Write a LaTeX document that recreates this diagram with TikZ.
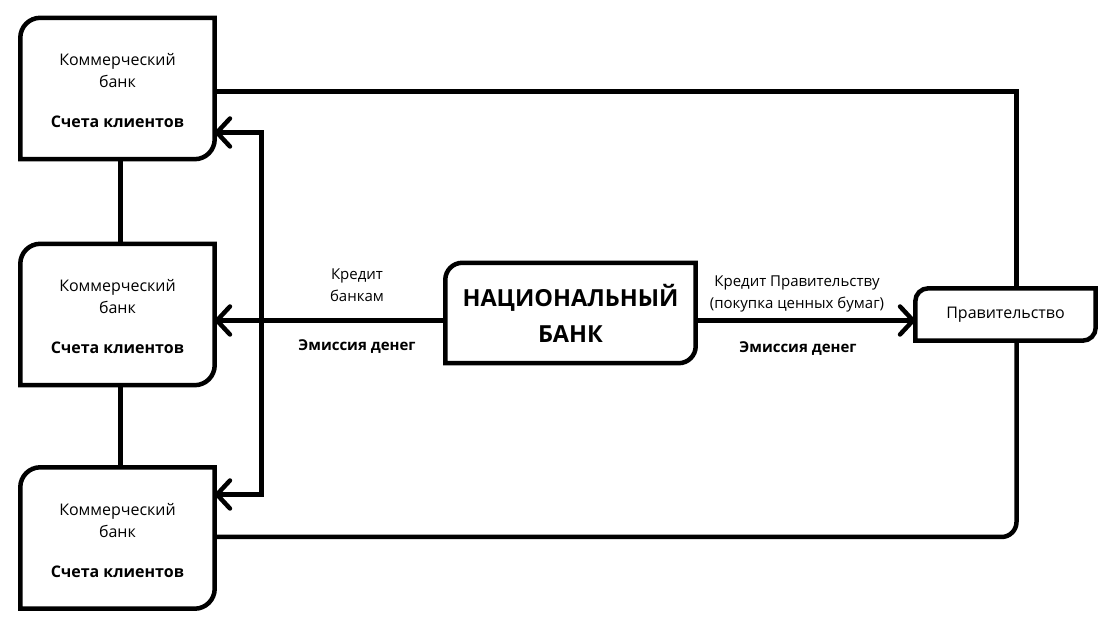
\documentclass[tikz,border=0pt]{standalone}
\usepackage{fontspec}
\setmainfont{Open Sans}
\usetikzlibrary{arrows.meta,calc}
\tikzset{
  bankbox/.style={minimum width=194pt,minimum height=141pt,inner sep=0pt},
  banktext/.style={align=center,inner sep=0pt,font=\fontsize{16}{22}\selectfont},
  boxline/.style={line width=4.5pt,line join=miter},
  conn/.style={line width=4.5pt},
  arr/.style={conn,-{Straight Barb[length=13pt,width=28pt,round]}},
  lbl/.style={align=center,inner sep=0pt,font=\fontsize{15}{22}\selectfont},
  blbl/.style={align=center,inner sep=0pt,font=\fontsize{15}{22}\selectfont\bfseries},
}
\newcommand\cutbox[2]{\draw[boxline] ($(#1.north west)+(0,-#2)$) arc[start angle=180,end angle=90,radius=#2] -- (#1.north east) -- ($(#1.south east)+(0,#2)$) arc[start angle=0,end angle=-90,radius=#2] -- (#1.south west) -- cycle;}
\newcommand\banktxt{Коммерческий\\банк\\[18pt]\textbf{Счета клиентов}}
\begin{document}
\begin{tikzpicture}[x=1pt,y=1pt]
\useasboundingbox (0,0) rectangle (1111,628);
\fill[white] (0,0) rectangle (1111,628);
% nodes
\node[bankbox] (cb1) at (117.5,539.5) {};
\node[bankbox] (cb2) at (117.5,313.5) {};
\node[bankbox] (cb3) at (117.5,90) {};
\node[banktext] (cb1t) at ($(cb1)+(0,-2.5)$) {\banktxt};
\node[banktext] (cb2t) at ($(cb2)+(0,-2.5)$) {\banktxt};
\node[banktext] (cb3t) at ($(cb3)+(0,-2.5)$) {\banktxt};
\node[minimum width=250pt,minimum height=100pt,inner sep=0pt,align=center,font=\fontsize{23.5}{36}\selectfont\bfseries] (nb) at (570.5,315) {НАЦИОНАЛЬНЫЙ\\БАНК};
\node[minimum width=180pt,minimum height=52pt,inner sep=0pt,font=\fontsize{16}{22}\selectfont] (gov) at (1005.5,313.5) {Правительство};
\cutbox{cb1}{20}
\cutbox{cb2}{20}
\cutbox{cb3}{20}
\cutbox{nb}{17}
\cutbox{gov}{13}
% labels
\node[lbl] (l1) at (357,343) {Кредит\\банкам};
\node[blbl] (l2) at (357,281) {Эмиссия денег};
\node[lbl] (l3) at (797,334) {Кредит Правительству\\(покупка ценных бумаг)};
\node[blbl] (l4) at (798,279) {Эмиссия денег};
% coordinates
\coordinate (mL) at ($(nb.west)+(0,-7.5)$);
\coordinate (mR) at ($(nb.east)+(0,-7.5)$);
\coordinate (bk1) at (261.5,495.5);
\coordinate (bk3) at (261.5,133.5);
\coordinate (t1) at ($(cb1.east)+(0,-3)$);
\coordinate (b3) at ($(cb3.east)+(0,1)$);
\coordinate (gn) at ($(gov.north)+(11,0)$);
\coordinate (gs) at ($(gov.south)+(11,0)$);
% connectors
\draw[conn] ($(cb1.south)+(3,0)$) -- ($(cb2.north)+(3,0)$);
\draw[conn] ($(cb2.south)+(3,0)$) -- ($(cb3.north)+(3,0)$);
\draw[arr] (mL) -- (mL -| cb2.east);
\draw[arr] (mR) -- (mR -| gov.west);
\draw[conn,{Straight Barb[length=13pt,width=28pt,round]}-{Straight Barb[length=13pt,width=28pt,round]}] (bk1 -| cb1.east) -- (bk1) -- (bk3) -- (bk3 -| cb3.east);
\draw[conn] (t1) -| (gn);
\draw[conn,rounded corners=15pt] (b3) -| (gs);
\end{tikzpicture}
\end{document}
